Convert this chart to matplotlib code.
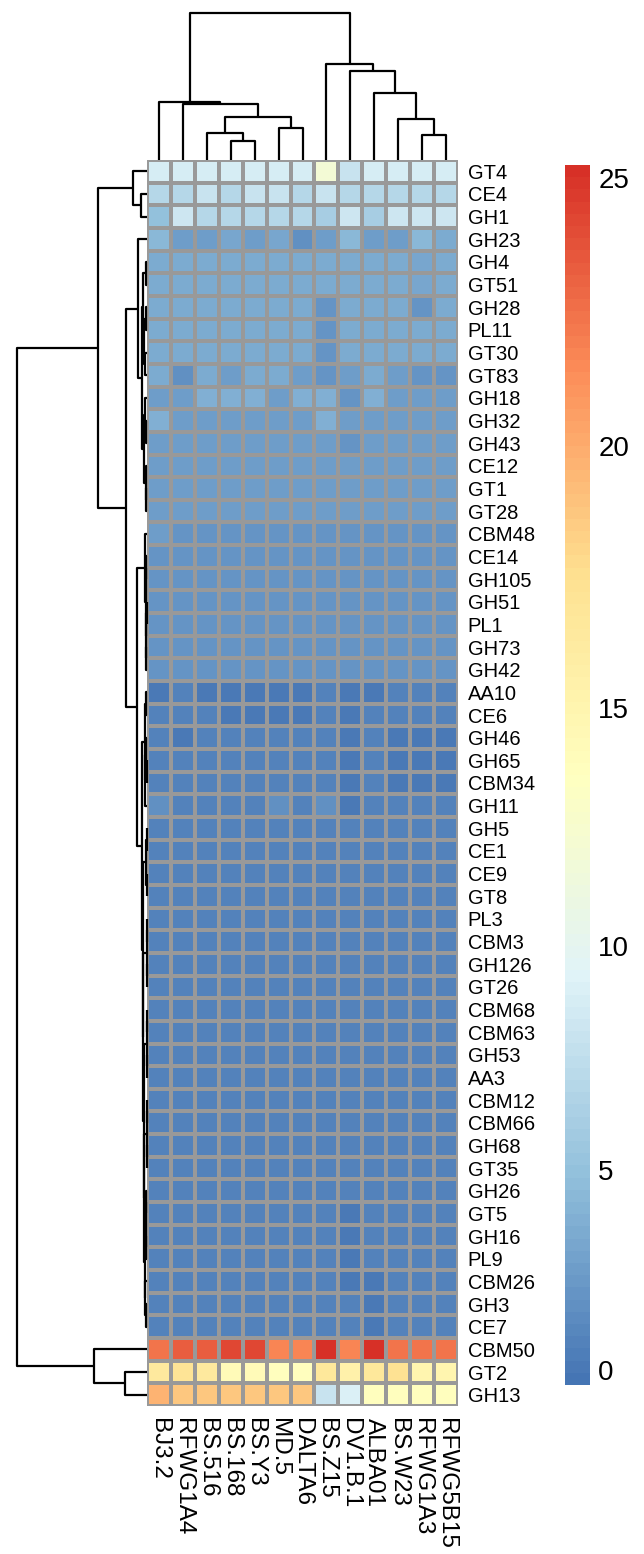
import numpy as np
import matplotlib
matplotlib.use("Agg")
import matplotlib.pyplot as plt
from matplotlib.colors import LinearSegmentedColormap, FuncNorm

plt.rcParams['font.family'] = ['Liberation Sans', 'DejaVu Sans']

# samples (columns, in dendrogram order)
samples = ['BJ3.2', 'RFWG1A4', 'BS.516', 'BS.168', 'BS.Y3', 'MD.5', 'DALTA6',
           'BS.Z15', 'DV1.B.1', 'ALBA01', 'BS.W23', 'RFWG1A3', 'RFWG5B15']

# CAZy families (rows, in dendrogram order)
families = ['GT4', 'CE4', 'GH1', 'GH23', 'GH4', 'GT51', 'GH28', 'PL11', 'GT30', 'GT83',
            'GH18', 'GH32', 'GH43', 'CE12', 'GT1', 'GT28', 'CBM48', 'CE14', 'GH105', 'GH51',
            'PL1', 'GH73', 'GH42', 'AA10', 'CE6', 'GH46', 'GH65', 'CBM34', 'GH11', 'GH5',
            'CE1', 'CE9', 'GT8', 'PL3', 'CBM3', 'GH126', 'GT26', 'CBM68', 'CBM63', 'GH53',
            'AA3', 'CBM12', 'CBM66', 'GH68', 'GT35', 'GH26', 'GT5', 'GH16', 'PL9', 'CBM26',
            'GH3', 'CE7', 'CBM50', 'GT2', 'GH13']

# relative abundance, one row per family
abundance = [
    [8.8, 8.9, 8.9, 8.9, 8.9, 8.9, 8.9, 11.8, 8.0, 8.9, 8.9, 8.9, 8.9],   # GT4
    [7.0, 6.9, 8.0, 7.0, 8.0, 8.0, 6.9, 8.0, 7.0, 7.0, 7.0, 7.0, 7.0],    # CE4
    [5.0, 8.1, 7.0, 7.0, 7.0, 7.0, 7.0, 6.0, 8.1, 6.0, 8.1, 8.1, 8.1],    # GH1
    [4.5, 2.4, 2.4, 3.0, 2.4, 3.0, 1.5, 2.4, 4.5, 2.4, 2.4, 4.3, 3.3],    # GH23
    [3.3, 3.3, 3.3, 3.3, 3.3, 3.3, 3.3, 3.3, 3.3, 3.3, 3.3, 3.2, 3.3],    # GH4
    [3.3, 3.3, 3.3, 3.3, 3.3, 3.3, 3.3, 3.4, 3.3, 3.3, 3.3, 3.2, 3.3],    # GT51
    [3.3, 3.3, 3.3, 3.3, 3.3, 3.3, 3.3, 1.9, 3.3, 3.3, 3.3, 1.9, 3.3],    # GH28
    [3.4, 3.4, 3.4, 3.4, 3.4, 3.4, 3.4, 1.9, 3.4, 3.4, 3.4, 3.3, 3.4],    # PL11
    [3.4, 3.4, 3.4, 3.4, 3.4, 3.4, 3.4, 1.9, 3.4, 3.4, 3.4, 3.3, 3.4],    # GT30
    [3.3, 1.7, 3.3, 2.4, 3.3, 3.3, 2.4, 1.9, 2.4, 3.3, 2.4, 1.8, 1.8],    # GT83
    [2.4, 2.4, 3.6, 3.6, 3.6, 2.4, 3.6, 3.6, 1.9, 3.6, 2.4, 2.4, 2.4],    # GH18
    [3.6, 2.5, 2.5, 2.5, 2.5, 2.5, 2.5, 3.6, 2.5, 2.5, 2.5, 2.5, 2.5],    # GH32
    [2.5, 2.5, 2.5, 2.5, 2.5, 2.5, 2.5, 2.5, 1.8, 2.5, 2.5, 2.5, 2.5],    # GH43
    [2.5, 2.5, 2.5, 2.5, 2.5, 2.5, 2.5, 2.5, 2.5, 2.5, 2.5, 2.5, 2.5],    # CE12
    [2.5, 2.5, 2.5, 2.5, 2.5, 2.5, 2.5, 2.5, 2.5, 2.5, 2.5, 2.5, 2.5],    # GT1
    [2.5, 2.5, 2.5, 2.5, 2.5, 2.5, 2.5, 2.5, 2.5, 2.5, 2.5, 2.5, 2.5],    # GT28
    [2.5, 1.8, 1.8, 1.8, 1.8, 1.8, 1.8, 1.8, 1.8, 1.8, 1.8, 1.8, 1.8],    # CBM48
    [1.8, 1.8, 1.8, 1.8, 1.8, 1.8, 1.8, 1.8, 1.8, 1.8, 1.8, 1.8, 1.8],    # CE14
    [1.8, 1.8, 1.8, 1.8, 1.8, 1.8, 1.8, 1.8, 1.8, 1.8, 1.8, 1.8, 1.8],    # GH105
    [1.8, 1.8, 1.8, 1.8, 1.8, 1.8, 1.8, 1.8, 1.8, 1.8, 1.8, 1.8, 1.8],    # GH51
    [1.8, 1.8, 1.8, 1.8, 1.8, 1.8, 1.8, 1.8, 1.8, 1.8, 1.8, 1.8, 1.8],    # PL1
    [1.8, 1.8, 1.8, 1.8, 1.8, 1.8, 1.8, 1.8, 1.8, 1.8, 1.8, 1.8, 1.8],    # GH73
    [1.8, 1.8, 1.8, 1.8, 1.8, 1.8, 1.8, 1.8, 1.8, 1.8, 1.8, 1.8, 1.8],    # GH42
    [0.0, 0.6, 0.0, 0.0, 0.0, 0.0, 0.0, 0.6, 0.0, 0.0, 0.6, 0.6, 0.6],    # AA10
    [0.6, 0.6, 0.6, 0.0, 0.0, 0.0, 0.0, 0.6, 0.0, 0.6, 0.6, 0.6, 0.6],    # CE6
    [0.6, 0.0, 0.6, 0.6, 0.6, 0.6, 0.6, 0.6, 0.1, 0.6, 0.1, 0.1, 0.1],    # GH46
    [0.6, 0.6, 0.6, 0.6, 0.6, 0.6, 0.6, 0.6, 0.1, 0.6, 0.1, 0.1, 0.1],    # GH65
    [0.6, 0.6, 0.6, 0.6, 0.6, 0.6, 0.6, 0.6, 0.1, 0.6, 0.1, 0.1, 0.1],    # CBM34
    [1.5, 0.6, 0.6, 0.6, 0.6, 1.5, 0.6, 1.5, 0.1, 0.6, 0.6, 0.6, 0.6],    # GH11
    [0.6, 0.6, 0.6, 0.6, 0.6, 0.6, 0.6, 0.6, 0.6, 0.6, 0.6, 0.6, 0.6],    # GH5
    [0.6, 0.6, 0.6, 0.6, 0.6, 0.6, 0.6, 0.6, 0.6, 0.6, 0.6, 0.6, 0.6],    # CE1
    [0.6, 0.6, 0.6, 0.6, 0.6, 0.6, 0.6, 0.6, 0.6, 0.6, 0.6, 0.6, 0.6],    # CE9
    [0.6, 0.6, 0.6, 0.6, 0.6, 0.6, 0.6, 0.6, 0.6, 0.6, 0.6, 0.6, 0.6],    # GT8
    [0.6, 0.6, 0.6, 0.6, 0.6, 0.6, 0.6, 0.6, 0.6, 0.6, 0.6, 0.6, 0.6],    # PL3
    [0.6, 0.6, 0.6, 0.6, 0.6, 0.6, 0.6, 0.6, 0.6, 0.6, 0.6, 0.6, 0.6],    # CBM3
    [0.6, 0.6, 0.6, 0.6, 0.6, 0.6, 0.6, 0.6, 0.6, 0.6, 0.6, 0.6, 0.6],    # GH126
    [0.6, 0.6, 0.6, 0.6, 0.6, 0.6, 0.6, 0.6, 0.6, 0.6, 0.6, 0.6, 0.6],    # GT26
    [0.6, 0.6, 0.6, 0.6, 0.6, 0.6, 0.6, 0.6, 0.6, 0.6, 0.6, 0.6, 0.6],    # CBM68
    [0.6, 0.6, 0.6, 0.6, 0.6, 0.6, 0.6, 0.6, 0.6, 0.6, 0.6, 0.6, 0.6],    # CBM63
    [0.6, 0.6, 0.6, 0.6, 0.6, 0.6, 0.6, 0.6, 0.6, 0.6, 0.6, 0.6, 0.6],    # GH53
    [0.6, 0.6, 0.6, 0.6, 0.6, 0.6, 0.6, 0.6, 0.6, 0.6, 0.6, 0.6, 0.6],    # AA3
    [0.6, 0.6, 0.6, 0.6, 0.6, 0.6, 0.6, 0.6, 0.6, 0.6, 0.6, 0.6, 0.6],    # CBM12
    [0.6, 0.6, 0.6, 0.6, 0.6, 0.6, 0.6, 0.6, 0.6, 0.6, 0.6, 0.6, 0.6],    # CBM66
    [0.6, 0.6, 0.6, 0.6, 0.6, 0.6, 0.6, 0.6, 0.6, 0.6, 0.6, 0.6, 0.6],    # GH68
    [0.6, 0.6, 0.6, 0.6, 0.6, 0.6, 0.6, 0.6, 0.6, 0.6, 0.6, 0.6, 0.6],    # GT35
    [0.6, 0.6, 0.6, 0.6, 0.6, 0.6, 0.6, 0.6, 0.6, 0.6, 0.6, 0.6, 0.6],    # GH26
    [0.6, 0.6, 0.6, 0.6, 0.6, 0.6, 0.6, 0.6, 0.1, 0.6, 0.6, 0.6, 0.6],    # GT5
    [0.6, 0.6, 0.6, 0.6, 0.6, 0.6, 0.6, 0.6, 0.1, 0.6, 0.6, 0.6, 0.6],    # GH16
    [0.6, 0.6, 0.6, 0.6, 0.6, 0.6, 0.6, 0.6, 0.1, 0.6, 0.6, 0.6, 0.6],    # PL9
    [0.6, 0.6, 0.6, 0.6, 0.6, 0.6, 0.6, 0.6, 0.1, 0.1, 0.6, 0.6, 0.6],    # CBM26
    [0.6, 0.6, 0.6, 0.6, 0.6, 0.6, 0.6, 0.6, 0.6, 0.1, 0.6, 0.6, 0.6],    # GH3
    [0.6, 0.6, 0.6, 0.6, 0.6, 0.6, 0.6, 0.6, 0.6, 0.1, 0.6, 0.6, 0.6],    # CE7
    [22.5, 23.4, 23.4, 24.3, 24.3, 21.6, 21.6, 25.2, 21.6, 25.2, 22.5, 22.5, 22.5],  # CBM50
    [16.4, 17.2, 16.4, 14.3, 14.3, 13.8, 13.8, 16.6, 15.5, 16.6, 17.3, 15.0, 15.0],  # GT2
    [19.7, 18.7, 18.7, 18.7, 18.7, 18.7, 18.7, 8.0, 9.1, 13.8, 13.8, 13.8, 13.8],    # GH13
]

# dendrograms as nested [left, right, height]
col_tree = [[0, [1, [[2, [3, 4, 19], 27], [5, 6, 32], 43], 56], 58],
            [7, [8, [9, [10, [11, 12, 25], 41], 67], 88], 95], 146]

row_e2 = [[[4, 5, 1.5], [[6, 7, 1.0], [8, 9, 2.0], 3.0], 4.0],
          [[10, [11, 12, 1.5], 2.5], [13, [14, 15, 0.8], 1.5], 3.5], 5.0]
row_f1 = [16, [[17, 18, 0.8], [[19, 20, 0.5], [21, 22, 0.6], 1.0], 1.5], 2.5]
row_f2a = [[23, 24, 1.2], [[25, [26, 27, 0.5], 0.9], 28, 1.6], 2.2]
row_f2b = [[[29, 30, 0.3], [31, 32, 0.3], 0.6],
           [[[33, 34, 0.2], [35, 36, 0.2], 0.4],
            [[[37, 38, 0.2], [39, 40, 0.2], 0.4],
             [[[41, 42, 0.2], [43, 44, 0.3], 0.5],
              [[[45, 46, 0.6], [47, 48, 0.8], 1.2], [49, [50, 51, 1.2], 2.0], 2.5],
              3.0], 3.3], 3.6], 4.0]
row_tree = [[[0, [1, 2, 6.0], 14.0],
             [[3, row_e2, 9.0], [row_f1, [row_f2a, row_f2b, 5.0], 10.0], 21.0], 49.0],
            [52, [53, 54, 22.0], 53.0], 130.0]

# legend breaks (value -> position along the colour key)
key_values = [-0.37, 0, 5, 10, 15, 20, 25, 25.25]
key_pos = [0.0, 0.012, 0.176, 0.36, 0.555, 0.77, 0.989, 1.0]

palette = ['#4575B4', '#91BFDB', '#E0F3F8', '#FFFFBF', '#FEE090', '#FC8D59', '#D73027']
cmap = LinearSegmentedColormap.from_list('rdylbu', palette, N=100)
norm = FuncNorm((lambda v: np.interp(v, key_values, key_pos),
                 lambda p: np.interp(p, key_pos, key_values)),
                vmin=key_values[0], vmax=key_values[-1])

W, H = 644, 1554
fig = plt.figure(figsize=(W / 100, H / 100), dpi=100)


def box(x0, y0, x1, y1):
    return [x0 / W, 1 - y1 / H, (x1 - x0) / W, (y1 - y0) / H]


data = np.array(abundance)
n_rows, n_cols = data.shape

ax = fig.add_axes(box(147, 160, 458, 1406))
mesh = ax.pcolormesh(data, cmap=cmap, norm=norm, edgecolors='#999999', linewidth=1.5)
ax.set_xlim(0, n_cols)
ax.set_ylim(n_rows, 0)
for s in ax.spines.values():
    s.set_visible(False)
ax.yaxis.tick_right()
ax.set_yticks(np.arange(n_rows) + 0.5)
ax.set_yticklabels(families, fontsize=14.5)
ax.set_xticks(np.arange(n_cols) + 0.5)
ax.set_xticklabels(samples, fontsize=17.5, rotation=270, va='top', ha='center')
ax.tick_params(length=0, pad=7)
ax.tick_params(axis='x', pad=9)


def draw_tree(a, node, vertical):
    # returns (leaf position, height) of the node
    if isinstance(node, int):
        return node + 0.5, 0.0
    left, right, h = node
    p1, h1 = draw_tree(a, left, vertical)
    p2, h2 = draw_tree(a, right, vertical)
    xs = [p1, p1, p2, p2]
    ys = [h1, h, h, h2]
    if vertical:
        a.plot(xs, ys, color='black', lw=1.6, clip_on=False, solid_capstyle='butt')
    else:
        a.plot(ys, xs, color='black', lw=1.6, clip_on=False, solid_capstyle='butt')
    return (p1 + p2) / 2, h


axc = fig.add_axes(box(147, 13, 458, 160))
draw_tree(axc, col_tree, True)
axc.set_xlim(0, n_cols)
axc.set_ylim(0, col_tree[2])
axc.axis('off')

axr = fig.add_axes(box(17, 160, 147, 1406))
draw_tree(axr, row_tree, False)
axr.set_ylim(n_rows, 0)
axr.set_xlim(row_tree[2], 0)
axr.axis('off')

cax = fig.add_axes(box(565, 165, 590, 1385))
cb = fig.colorbar(mesh, cax=cax)
cb.set_ticks([0, 5, 10, 15, 20, 25])
cb.ax.tick_params(length=0, labelsize=20, pad=6)
cb.outline.set_visible(False)

fig.savefig('out.png', dpi=100)
